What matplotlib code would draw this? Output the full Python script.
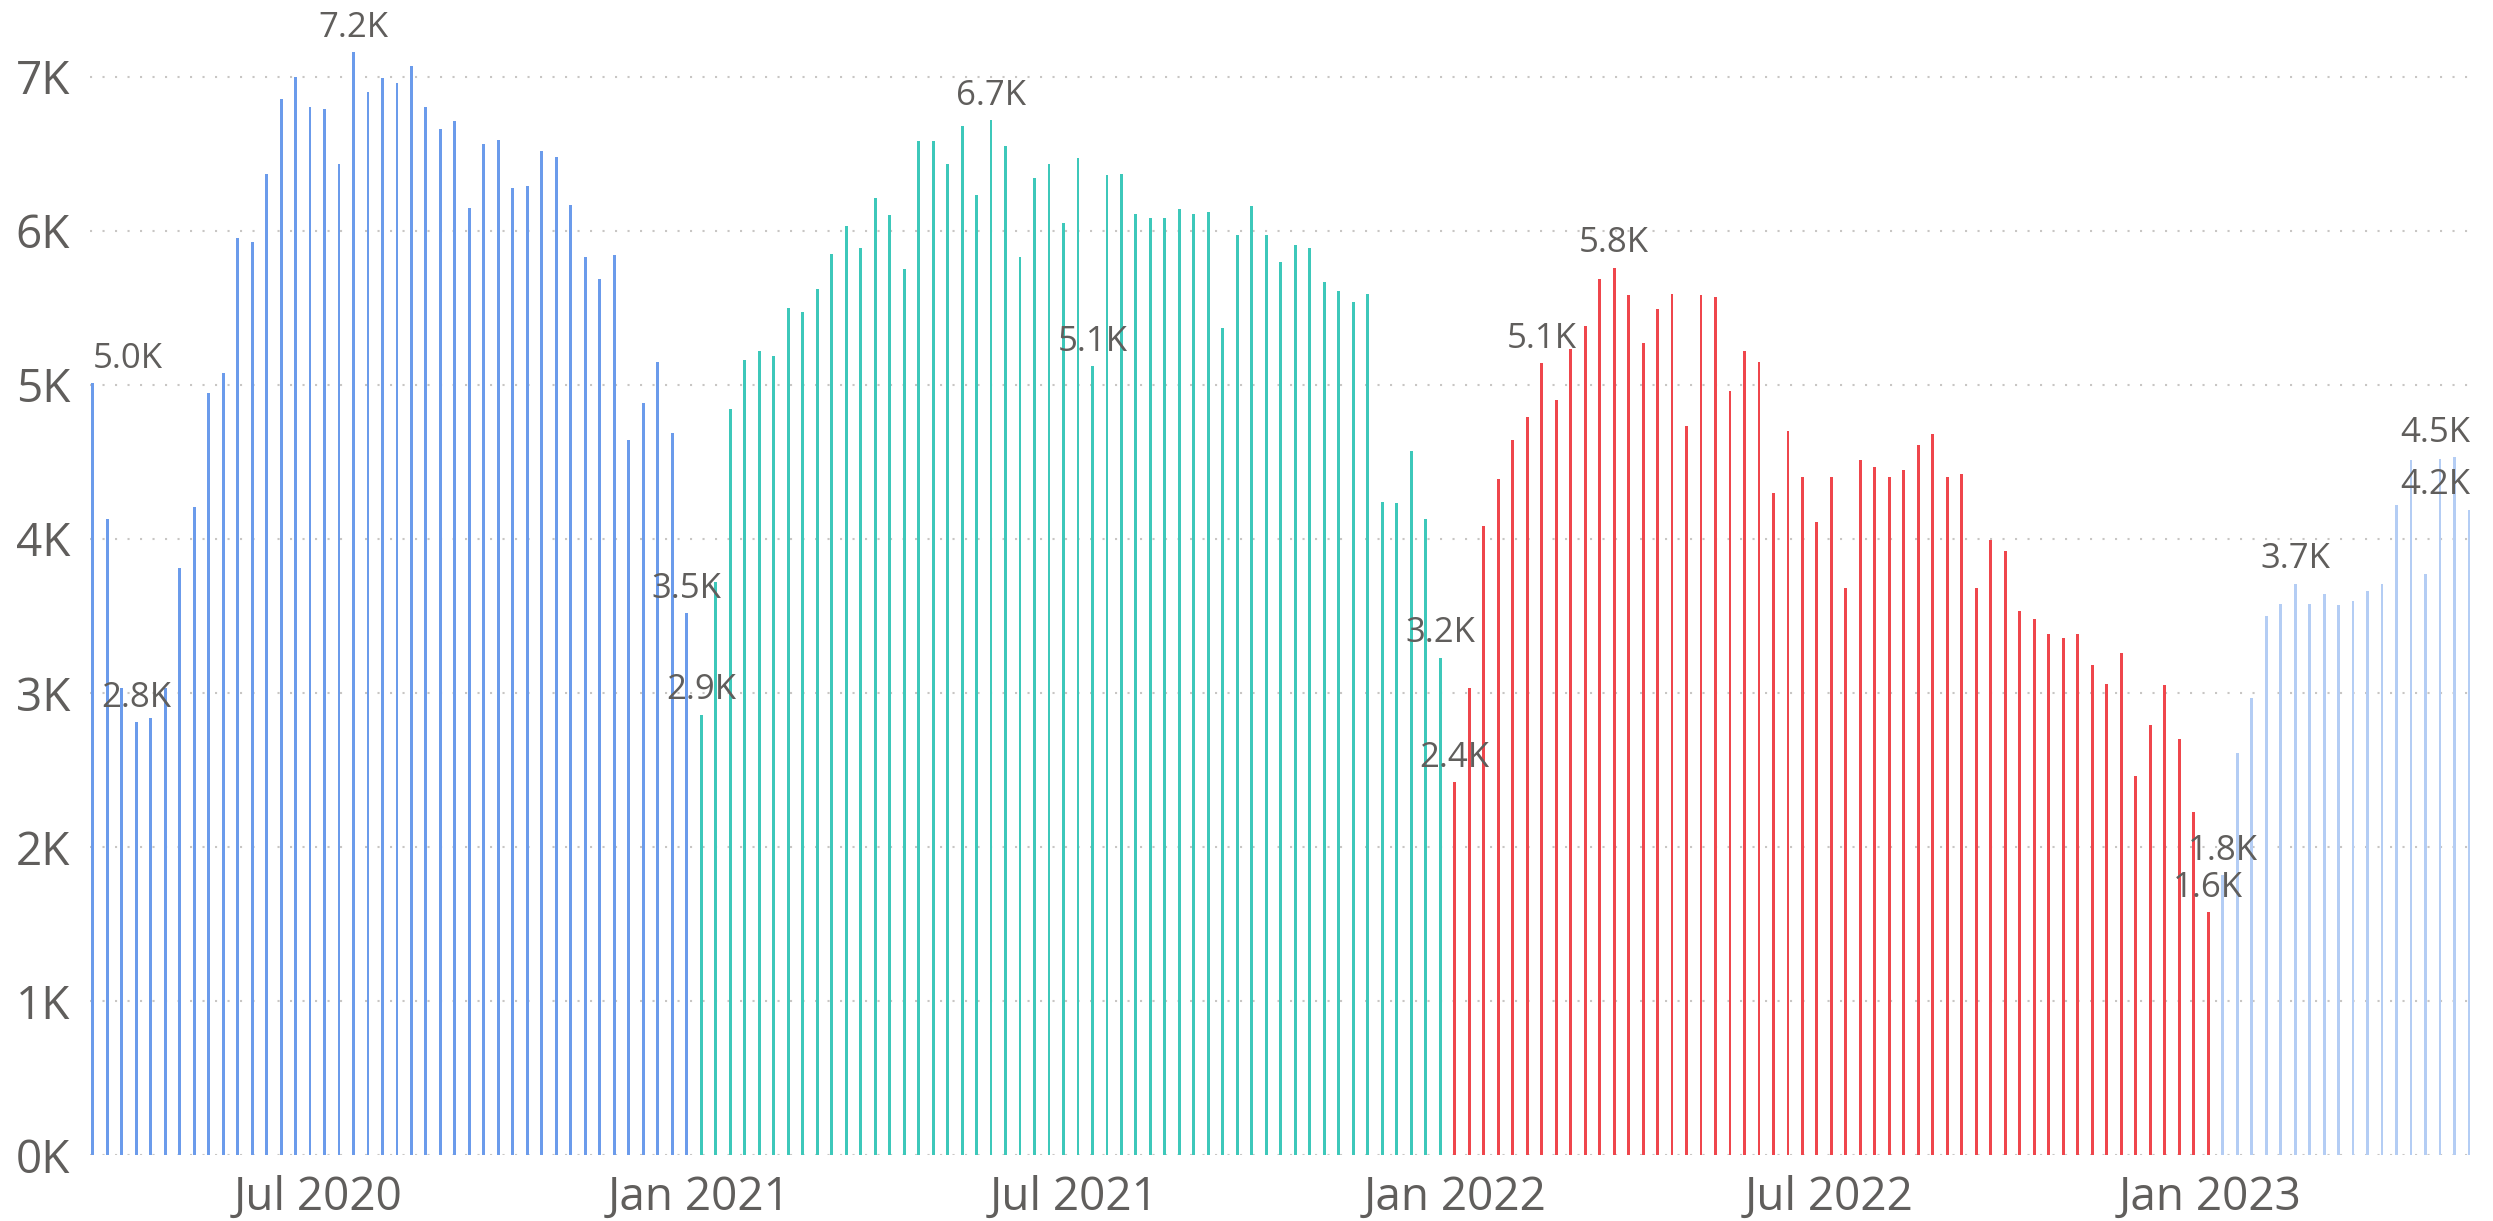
import matplotlib
matplotlib.use("Agg")
import matplotlib.pyplot as plt
import matplotlib.dates as mdates
import matplotlib.ticker as mticker
import matplotlib.transforms as mtransforms
import numpy as np
import pandas as pd

# weekly counts, first week ending Sat 14 Mar 2020
FIRST_WEEK = "2020-03-14"

values_2020 = [5010, 4130, 3030, 2810, 2840, 3030, 3810, 4210, 4950, 5080,
               5950, 5930, 6370, 6855, 7000, 6800, 6790, 6430, 7160, 6900,
               6990, 6960, 7070, 6800, 6660, 6710, 6150, 6560, 6590, 6280,
               6290, 6520, 6480, 6170, 5830, 5690, 5840, 4640, 4880, 5150,
               4690, 3520]
values_2021 = [2860, 3720, 4840, 5160, 5220, 5190, 5500, 5470, 5620, 5850,
               6030, 5890, 6210, 6100, 5750, 6580, 6580, 6430, 6680, 6230,
               6720, 6550, 5830, 6340, 6430, 6050, 6470, 5120, 6360, 6370,
               6110, 6080, 6080, 6140, 6110, 6120, 5370, 5970, 6160, 5970,
               5800, 5910, 5890, 5670, 5610, 5540, 5590, 4240, 4230, 4570,
               4130, 3230]
values_2022 = [2420, 3030, 4085, 4390, 4640, 4790, 5140, 4900, 5230, 5380,
               5690, 5760, 5580, 5270, 5490, 5590, 4730, 5580, 5570, 4960,
               5220, 5150, 4300, 4700, 4400, 4110, 4400, 3680, 4510, 4470,
               4400, 4450, 4610, 4680, 4400, 4420, 3680, 3990, 3920, 3530,
               3480, 3385, 3360, 3380, 3180, 3060, 3260, 2460, 2790, 3050,
               2700, 2230, 1580]
values_2023 = [1820, 2610, 2970, 3500, 3580, 3710, 3580, 3640, 3570, 3600,
               3660, 3710, 4220, 4510, 3770, 4520, 4530, 4190]

# weeks that carry a data label (0-based)
label_weeks = [0, 3, 18, 41, 42, 62, 69, 93, 94, 100, 105, 146, 147, 152, 163, 164]

YEAR_COLORS = {2020: "#6B9BEB", 2021: "#3DC8BA", 2022: "#EF464C", 2023: "#B4CDF4"}
TEXT = "#605E5C"
GRID = "#C8C6C4"

plt.rcParams["font.family"] = ["Open Sans", "DejaVu Sans"]

values = np.array(values_2020 + values_2021 + values_2022 + values_2023, dtype=float)
dates = pd.date_range(FIRST_WEEK, periods=len(values), freq="7D")
colors = [YEAR_COLORS[d.year] for d in dates]

W, H = 2493, 1221
fig = plt.figure(figsize=(W / 100, H / 100), dpi=100)
ax = fig.add_axes([90 / W, (H - 1155.3) / H, 2380 / W, (1155.3 - 7.3) / H])

ax.bar(dates, values, width=1.4, color=colors, zorder=2)

x0 = mdates.date2num(dates[0]) - 1.3
x1 = mdates.date2num(dates[-1]) + 0.5
ax.set_xlim(x0, x1)
ax.set_ylim(0, 7450)

ax.xaxis.set_major_locator(mdates.MonthLocator(bymonth=[1, 7]))
ax.xaxis.set_major_formatter(mdates.DateFormatter("%b %Y"))
ax.yaxis.set_major_locator(mticker.MultipleLocator(1000))
ax.yaxis.set_major_formatter(mticker.FuncFormatter(lambda v, _: f"{v / 1000:.0f}K"))

ax.yaxis.grid(True, linestyle=(0, (1, 5)), color=GRID, linewidth=1.5, zorder=0)
ax.set_axisbelow(True)
for s in ax.spines.values():
    s.set_visible(False)
ax.tick_params(axis="both", length=0, labelsize=33, labelcolor=TEXT)
ax.tick_params(axis="x", pad=14)
ax.tick_params(axis="y", pad=14.4)

# data labels, kept inside the plot at the edges
edge = mtransforms.blended_transform_factory(ax.transAxes, ax.transData)
n = len(values)
for i in label_weeks:
    txt = f"{values[i] / 1000:.1f}K"
    kw = dict(xytext=(0, 11), textcoords="offset points", va="baseline",
              fontsize=25, color=TEXT, zorder=3)
    if i == 0:
        ax.annotate(txt, xy=(dates[i], values[i]), ha="left", **kw)
    elif i >= n - 2:
        ax.annotate(txt, xy=(1.0, values[i]), xycoords=edge, ha="right", **kw)
    else:
        ax.annotate(txt, xy=(dates[i], values[i]), ha="center", **kw)

fig.savefig("out.png", dpi=100)
